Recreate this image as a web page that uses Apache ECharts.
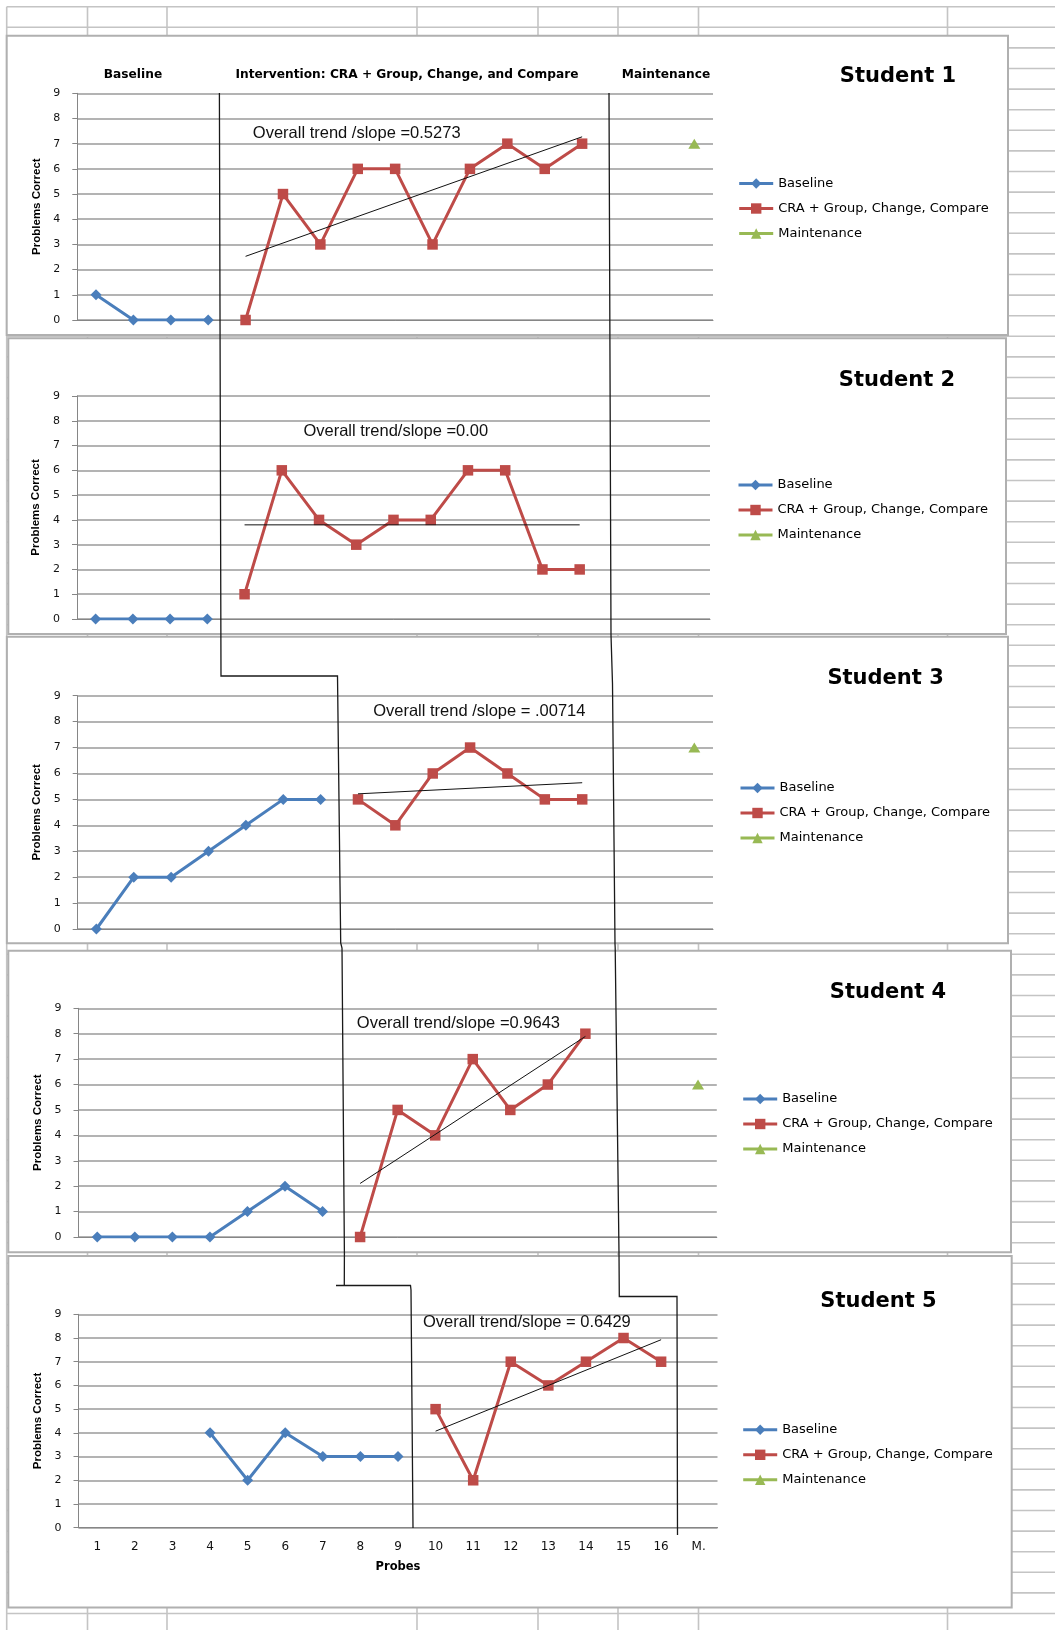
<!DOCTYPE html>
<html>
<head>
<meta charset="utf-8">
<script src="https://cdn.jsdelivr.net/npm/echarts@6/dist/echarts.min.js"></script>
<style>
  html, body { margin: 0; padding: 0; background: #fff; }
  #chart { width: 1055px; height: 1630px; }
</style>
</head>
<body>
<div id="chart"></div>
<script>
// ---- data ----
const probes = ['1', '2', '3', '4', '5', '6', '7', '8', '9', '10', '11', '12', '13', '14', '15', '16', 'M.'];

const baseline1 = [1, 0, 0, 0];
const intervention1 = [0, 5, 3, 6, 6, 3, 6, 7, 6, 7];
const maintenance1 = [7];

const baseline2 = [0, 0, 0, 0];
const intervention2 = [1, 6, 4, 3, 4, 4, 6, 6, 2, 2];
const maintenance2 = [];

const baseline3 = [0, 2, 2, 3, 4, 5, 5];
const intervention3 = [5, 4, 6, 7, 6, 5, 5];
const maintenance3 = [7];

const baseline4 = [0, 0, 0, 0, 1, 2, 1];
const intervention4 = [0, 5, 4, 7, 5, 6, 8];
const maintenance4 = [6];

const baseline5 = [4, 2, 4, 3, 3, 3];
const intervention5 = [5, 2, 7, 6, 7, 8, 7];
const maintenance5 = [];

const baselineFirstProbe = [1, 1, 1, 1, 4];
const interventionFirstProbe = [5, 5, 8, 8, 10];

const studentNames = ['Student 1', 'Student 2', 'Student 3', 'Student 4', 'Student 5'];
const phaseNames = ['Baseline', 'Intervention: CRA + Group, Change, and Compare', 'Maintenance'];
const legendNames = ['Baseline', 'CRA + Group, Change, Compare', 'Maintenance'];
const trendLabels = [
  'Overall trend /slope =0.5273',
  'Overall trend/slope =0.00',
  'Overall trend /slope = .00714',
  'Overall trend/slope =0.9643',
  'Overall trend/slope = 0.6429'
];

const baselines = [baseline1, baseline2, baseline3, baseline4, baseline5];
const interventions = [intervention1, intervention2, intervention3, intervention4, intervention5];
const maintenances = [maintenance1, maintenance2, maintenance3, maintenance4, maintenance5];

// ---- layout ----
const PANELS = [
  { x: 6.7, y: 35.7, w: 1001.3, h: 299.3 },
  { x: 8.3, y: 338.3, w: 997.7, h: 295.7 },
  { x: 6.9, y: 636.7, w: 1001.1, h: 306.6 },
  { x: 8.3, y: 950.7, w: 1002.7, h: 301.6 },
  { x: 8.3, y: 1256, w: 1003.4, h: 351.5 }
];
const GRIDS = [
  { left: 77.3, top: 93.3, width: 635.7, height: 226.7 },
  { left: 77, top: 396, width: 633, height: 223 },
  { left: 77.7, top: 695.7, width: 635.3, height: 233.3 },
  { left: 78.5, top: 1008.3, width: 638.3, height: 228.7 },
  { left: 78.5, top: 1314.3, width: 639, height: 213.4 }
];
const TITLE_POS = [[898, 77], [897, 381], [885.6, 679], [888, 993], [878.5, 1302]];
const LEGEND_POS = [[737.7, 176.5], [737, 478], [739, 781], [741.7, 1092], [741.7, 1422.8]];
const TREND_TEXT_POS = [[356.7, 133.3], [395.8, 431.7], [479.3, 711.7], [458.4, 1023], [526.9, 1322.3]];
const PHASE_TEXT_X = [133, 407, 666];
const PHASE_TEXT_Y = 74.5;

// worksheet cells behind the charts
const SHEET_COLS = [6.7, 87.5, 167, 417, 538, 618, 698.5, 947.5];
const SHEET_ROW_TOP = 6.7;
const SHEET_ROW_STEP = 20.6;
const SHEET_ROW_COUNT = 79;

// hand-drawn phase change lines
const PHASE_LINES = [
  [[219.4, 93], [221, 676], [337.5, 676], [340.7, 943], [342, 948], [344.4, 1253], [344.3, 1285.5]],
  [[336, 1285.5], [410.5, 1285.5], [411, 1290], [413, 1528]],
  [[609, 93], [611, 635], [612.5, 684], [615, 944], [615.2, 948], [619, 1253], [619.3, 1296.5], [677, 1296.5], [677.5, 1535]]
];

const BLUE = '#4A7EBB';
const RED = '#BE4B48';
const GREEN = '#98B954';
const GRID_LINE = '#9a9a9a';
const AXIS_LINE = '#868686';

// ---- helpers ----
function place(values, firstProbe) {
  const out = probes.map(() => null);
  values.forEach((v, k) => { out[firstProbe - 1 + k] = v; });
  return out;
}

// least-squares trend over the intervention phase
function trendEnds(values, firstProbe) {
  const n = values.length;
  const mx = (n - 1) / 2;
  const my = values.reduce((a, b) => a + b, 0) / n;
  let sxy = 0, sxx = 0;
  values.forEach((v, k) => { sxy += (k - mx) * (v - my); sxx += (k - mx) * (k - mx); });
  const slope = sxy / sxx;
  const b = my - slope * mx;
  return [[firstProbe - 1, b], [firstProbe - 1 + n - 1, b + slope * (n - 1)]];
}

// ---- option ----
const grid = [], xAxis = [], yAxis = [], series = [], legend = [];
const graphic = [];

for (let i = 0; i < 5; i++) {
  grid.push(Object.assign({ containLabel: false }, GRIDS[i]));
  const last = i === 4;
  xAxis.push({
    gridIndex: i, type: 'category', data: probes, boundaryGap: true, z: 2,
    axisLine: { show: true, lineStyle: { color: AXIS_LINE, width: 1 } },
    axisTick: { show: false },
    axisLabel: { show: last, fontFamily: 'DejaVu Sans', fontSize: 12, color: '#111', margin: 13 },
    name: last ? 'Probes' : '',
    nameLocation: 'middle', nameGap: 33,
    nameTextStyle: { fontFamily: 'DejaVu Sans', fontWeight: 'bold', fontSize: 11.5, color: '#000' },
    splitLine: { show: false }
  });
  yAxis.push({
    gridIndex: i, type: 'value', min: 0, max: 9, interval: 1, z: 2,
    name: 'Problems Correct', nameLocation: 'middle', nameGap: 32, nameRotate: 90,
    nameTextStyle: { fontFamily: 'Liberation Sans', fontWeight: 'bold', fontSize: 11.5, color: '#000' },
    axisLine: { show: true, lineStyle: { color: AXIS_LINE, width: 1 } },
    axisTick: { show: true, length: 5, lineStyle: { color: AXIS_LINE } },
    axisLabel: { fontFamily: 'DejaVu Sans', fontSize: 11, color: '#111', margin: 17 },
    splitLine: { show: true, lineStyle: { color: GRID_LINE, width: 1.5 } }
  });

  series.push({
    name: legendNames[0], type: 'line', xAxisIndex: i, yAxisIndex: i, z: 3,
    data: place(baselines[i], baselineFirstProbe[i]),
    symbol: 'diamond', symbolSize: 11,
    lineStyle: { color: BLUE, width: 3 }, itemStyle: { color: BLUE },
    animation: false
  });
  series.push({
    name: legendNames[1], type: 'line', xAxisIndex: i, yAxisIndex: i, z: 3,
    data: place(interventions[i], interventionFirstProbe[i]),
    symbol: 'rect', symbolSize: 10.5,
    lineStyle: { color: RED, width: 3 }, itemStyle: { color: RED },
    animation: false
  });
  series.push({
    name: legendNames[2], type: 'line', xAxisIndex: i, yAxisIndex: i, z: 3,
    data: place(maintenances[i], probes.length),
    symbol: 'triangle', symbolSize: [12, 10],
    lineStyle: { color: GREEN, width: 3 }, itemStyle: { color: GREEN },
    animation: false
  });
  series.push({
    name: 'Trend ' + (i + 1), type: 'line', xAxisIndex: i, yAxisIndex: i, z: 4,
    data: trendEnds(interventions[i], interventionFirstProbe[i]),
    symbol: 'none', silent: true,
    lineStyle: { color: '#111', width: 1 },
    animation: false
  });

  legend.push({
    data: legendNames, orient: 'vertical',
    left: LEGEND_POS[i][0], top: LEGEND_POS[i][1],
    padding: 0,
    itemWidth: 34, itemHeight: 13, itemGap: 11,
    selectedMode: false,
    lineStyle: { width: 3 },
    textStyle: { fontFamily: 'DejaVu Sans', fontSize: 13, color: '#000', lineHeight: 14 }
  });

  // chart area box
  graphic.push({
    type: 'rect', z: 1, silent: true,
    shape: { x: PANELS[i].x, y: PANELS[i].y, width: PANELS[i].w, height: PANELS[i].h },
    style: { fill: '#fff', stroke: '#b0b0b0', lineWidth: 2 }
  });
  graphic.push({
    type: 'text', z: 5, silent: true,
    style: {
      text: studentNames[i], x: TITLE_POS[i][0], y: TITLE_POS[i][1],
      textAlign: 'center', textVerticalAlign: 'middle', align: 'center', verticalAlign: 'middle',
      font: 'bold 21px "DejaVu Sans"', fill: '#000'
    }
  });
  graphic.push({
    type: 'text', z: 5, silent: true,
    style: {
      text: trendLabels[i], x: TREND_TEXT_POS[i][0], y: TREND_TEXT_POS[i][1],
      textAlign: 'center', textVerticalAlign: 'middle', align: 'center', verticalAlign: 'middle',
      font: '16.5px "Liberation Sans"', fill: '#111'
    }
  });
}

// phase headings above the first chart
phaseNames.forEach((t, k) => {
  graphic.push({
    type: 'text', z: 5, silent: true,
    style: {
      text: t, x: PHASE_TEXT_X[k], y: PHASE_TEXT_Y,
      textAlign: 'center', textVerticalAlign: 'middle', align: 'center', verticalAlign: 'middle',
      font: 'bold 12.2px "DejaVu Sans"', fill: '#000'
    }
  });
});

// worksheet gridlines
for (let r = 0; r < SHEET_ROW_COUNT; r++) {
  const y = SHEET_ROW_TOP + r * SHEET_ROW_STEP;
  graphic.push({
    type: 'line', z: 0, silent: true,
    shape: { x1: SHEET_COLS[0], y1: y, x2: 1055, y2: y },
    style: { stroke: '#c4c4c4', lineWidth: 1.6 }
  });
}
SHEET_COLS.forEach(x => {
  graphic.push({
    type: 'line', z: 0, silent: true,
    shape: { x1: x, y1: SHEET_ROW_TOP, x2: x, y2: 1630 },
    style: { stroke: '#c4c4c4', lineWidth: 1.6 }
  });
});

// phase change lines across the charts
PHASE_LINES.forEach(pts => {
  graphic.push({
    type: 'polyline', z: 10, silent: true,
    shape: { points: pts },
    style: { stroke: '#1a1a1a', lineWidth: 1.3, fill: null }
  });
});

const option = {
  backgroundColor: '#fff',
  animation: false,
  grid, xAxis, yAxis, series, legend, graphic
};

const chart = echarts.init(document.getElementById('chart'));
chart.setOption(option);
</script>
</body>
</html>
